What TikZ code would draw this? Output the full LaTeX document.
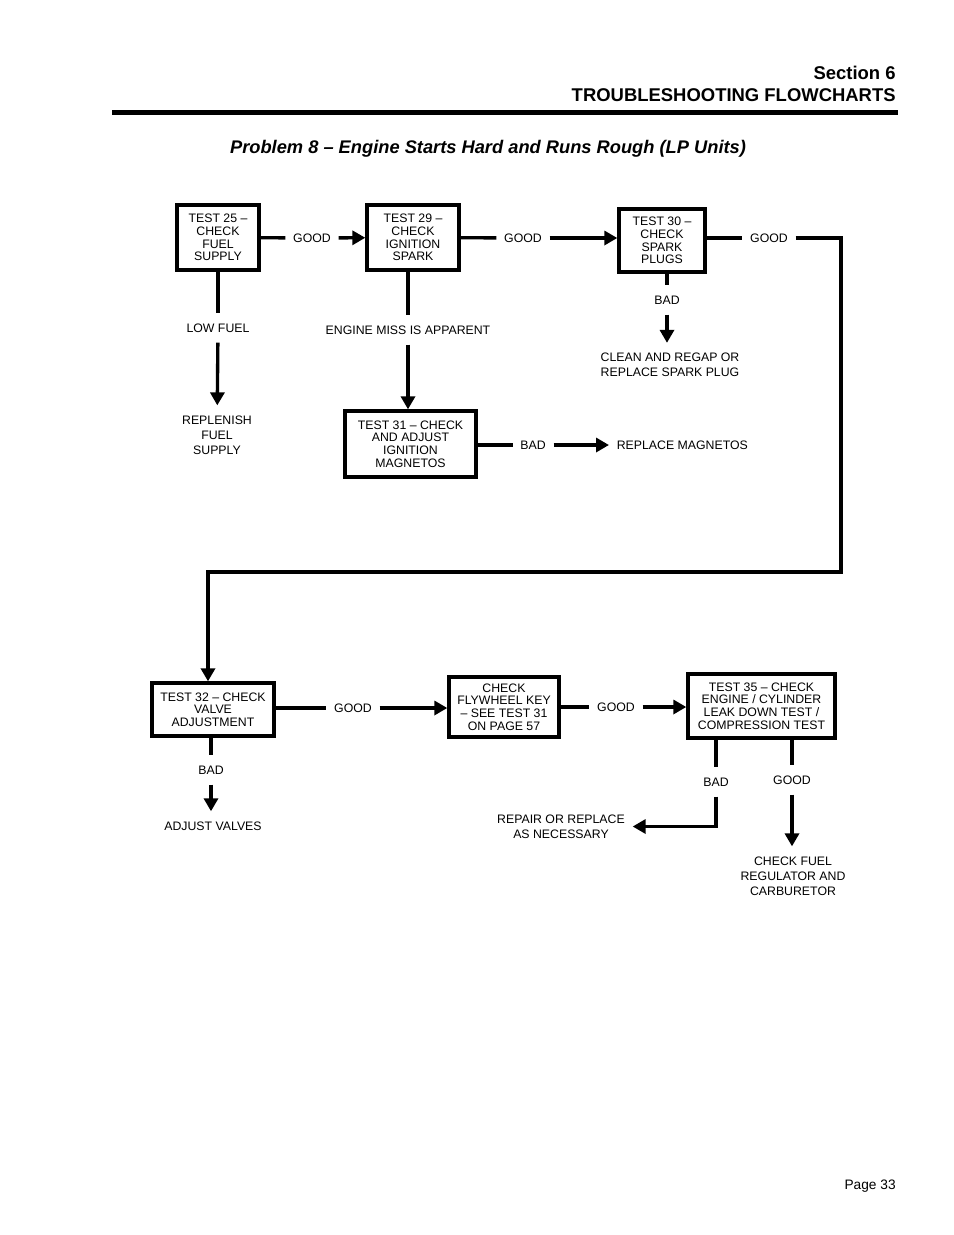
\documentclass[tikz,border=0pt]{standalone}
\usepackage{fontspec}
\setmainfont{Liberation Sans}
\usetikzlibrary{arrows.meta}

\begin{document}
\begin{tikzpicture}[x=0.2mm, y=-0.2mm,
    testbox/.style={draw=black, line width=1.9pt, rectangle, align=center, inner sep=0pt, font=\fontsize{7}{7.2}\selectfont},
    flowlabel/.style={align=center, inner xsep=1.5mm, inner ysep=2mm, font=\fontsize{7}{8.5}\selectfont},
    flowline/.style={draw=black, line width=1.9pt},
    flowarrow/.style={flowline, -{Triangle[length=2.6mm, width=2.8mm]}}]
\fill[white] (0,0) rectangle (954,1235);
\useasboundingbox (0,0) rectangle (954,1235);

% page header
\node[anchor=base east, inner sep=0pt, font=\fontsize{10.5}{12}\selectfont\bfseries] (section) at (896,79) {Section 6};
\node[anchor=base east, inner sep=0pt, font=\fontsize{10.5}{12}\selectfont\bfseries] (heading) at (896,101) {TROUBLESHOOTING FLOWCHARTS};
\draw[black, line width=1mm] (112,112) -- (898,112);
\node[anchor=base, font=\fontsize{10.4}{12}\selectfont\bfseries\itshape] (title) at (488,153) {Problem 8 – Engine Starts Hard and Runs Rough (LP Units)};

% test boxes
\node[testbox, minimum width=16.4mm, minimum height=13mm] (t25) at (218,237.5) {TEST 25 –\\CHECK\\FUEL\\SUPPLY};
\node[testbox, minimum width=18.4mm, minimum height=13mm] (t29) at (413,237.5) {TEST 29 –\\CHECK\\IGNITION\\SPARK};
\node[testbox, minimum width=17.2mm, minimum height=12.6mm] (t30) at (662,240.5) {TEST 30 –\\CHECK\\SPARK\\PLUGS};
\node[testbox, minimum width=26.2mm, minimum height=13.2mm] (t31) at (410.5,444) {TEST 31 – CHECK\\AND ADJUST\\IGNITION\\MAGNETOS};
\node[testbox, minimum width=24.4mm, minimum height=10.6mm] (t32) at (213,709.5) {TEST 32 – CHECK\\VALVE\\ADJUSTMENT};
\node[testbox, minimum width=22mm, minimum height=12mm] (fly) at (504,707) {CHECK\\FLYWHEEL KEY\\– SEE TEST 31\\ON PAGE 57};
\node[testbox, minimum width=29.4mm, minimum height=12.8mm] (t35) at (761.5,706) {TEST 35 – CHECK\\ENGINE / CYLINDER\\LEAK DOWN TEST /\\COMPRESSION TEST};

% labels and results
\node[flowlabel] (g1) at (312,238) {GOOD};
\node[flowlabel] (g2) at (523,238) {GOOD};
\node[flowlabel] (g3) at (769,238) {GOOD};
\node[flowlabel] (lowfuel) at (218,328) {LOW FUEL};
\node[flowlabel] (replenish) at (217,435) {REPLENISH\\FUEL\\SUPPLY};
\node[flowlabel] (miss) at (408,330) {ENGINE MISS IS APPARENT};
\node[flowlabel] (bad30) at (667,300) {BAD};
\node[flowlabel] (clean) at (670,365) {CLEAN AND REGAP OR\\REPLACE SPARK PLUG};
\node[flowlabel] (bad31) at (533,445) {BAD};
\node[flowlabel, anchor=west] (magnetos) at (609,445) {REPLACE MAGNETOS};
\node[flowlabel] (g4) at (353,708) {GOOD};
\node[flowlabel] (g5) at (616,707) {GOOD};
\node[flowlabel] (bad32) at (211,770) {BAD};
\node[flowlabel] (adjust) at (213,826) {ADJUST VALVES};
\node[flowlabel] (bad35) at (716,782) {BAD};
\node[flowlabel] (g6) at (792,780) {GOOD};
\node[flowlabel] (repair) at (561,826.5) {REPAIR OR REPLACE\\AS NECESSARY};
\node[flowlabel] (checkfuel) at (793,876) {CHECK FUEL\\REGULATOR AND\\CARBURETOR};

\coordinate (c1) at (841,238);
\coordinate (c2) at (841,572);
\coordinate (c3) at (208,572);

% connectors
\draw[flowline] (t25) -- (g1);
\draw[flowarrow] (g1) -- (t29);
\draw[flowline] (t29) -- (g2);
\draw[flowarrow] (g2) -- (g2 -| t30.west);
\draw[flowline] (t30.east |- g3) -- (g3);
\draw[flowarrow, line join=miter] (g3) -- (c1) -- (c2) -- (c3) -- (c3 |- t32.north);

\draw[flowline] (t25) -- (lowfuel);
\draw[flowarrow] (lowfuel) -- (replenish);
\draw[flowline] (t29.south -| miss) -- (miss);
\draw[flowarrow] (miss) -- (miss |- t31.north);
\draw[flowline] (t30.south -| bad30) -- (bad30);
\draw[flowarrow] (bad30) -- (bad30 |- clean.north);
\draw[flowline] (t31.east |- bad31) -- (bad31);
\draw[flowarrow] (bad31) -- (magnetos);

\draw[flowline] (t32.east |- g4) -- (g4);
\draw[flowarrow] (g4) -- (g4 -| fly.west);
\draw[flowline] (fly) -- (g5);
\draw[flowarrow] (g5) -- (g5 -| t35.west);
\draw[flowline] (t32.south -| bad32) -- (bad32);
\draw[flowarrow] (bad32) -- (bad32 |- adjust.north);
\draw[flowline] (t35.south -| bad35) -- (bad35);
\draw[flowarrow, line join=miter] (bad35) |- (repair);
\draw[flowline] (t35.south -| g6) -- (g6);
\draw[flowarrow] (g6) -- (g6 |- checkfuel.north);

\node[anchor=base east, inner sep=0pt, font=\fontsize{7.8}{9}\selectfont] (page) at (896,1189) {Page 33};
\end{tikzpicture}
\end{document}
